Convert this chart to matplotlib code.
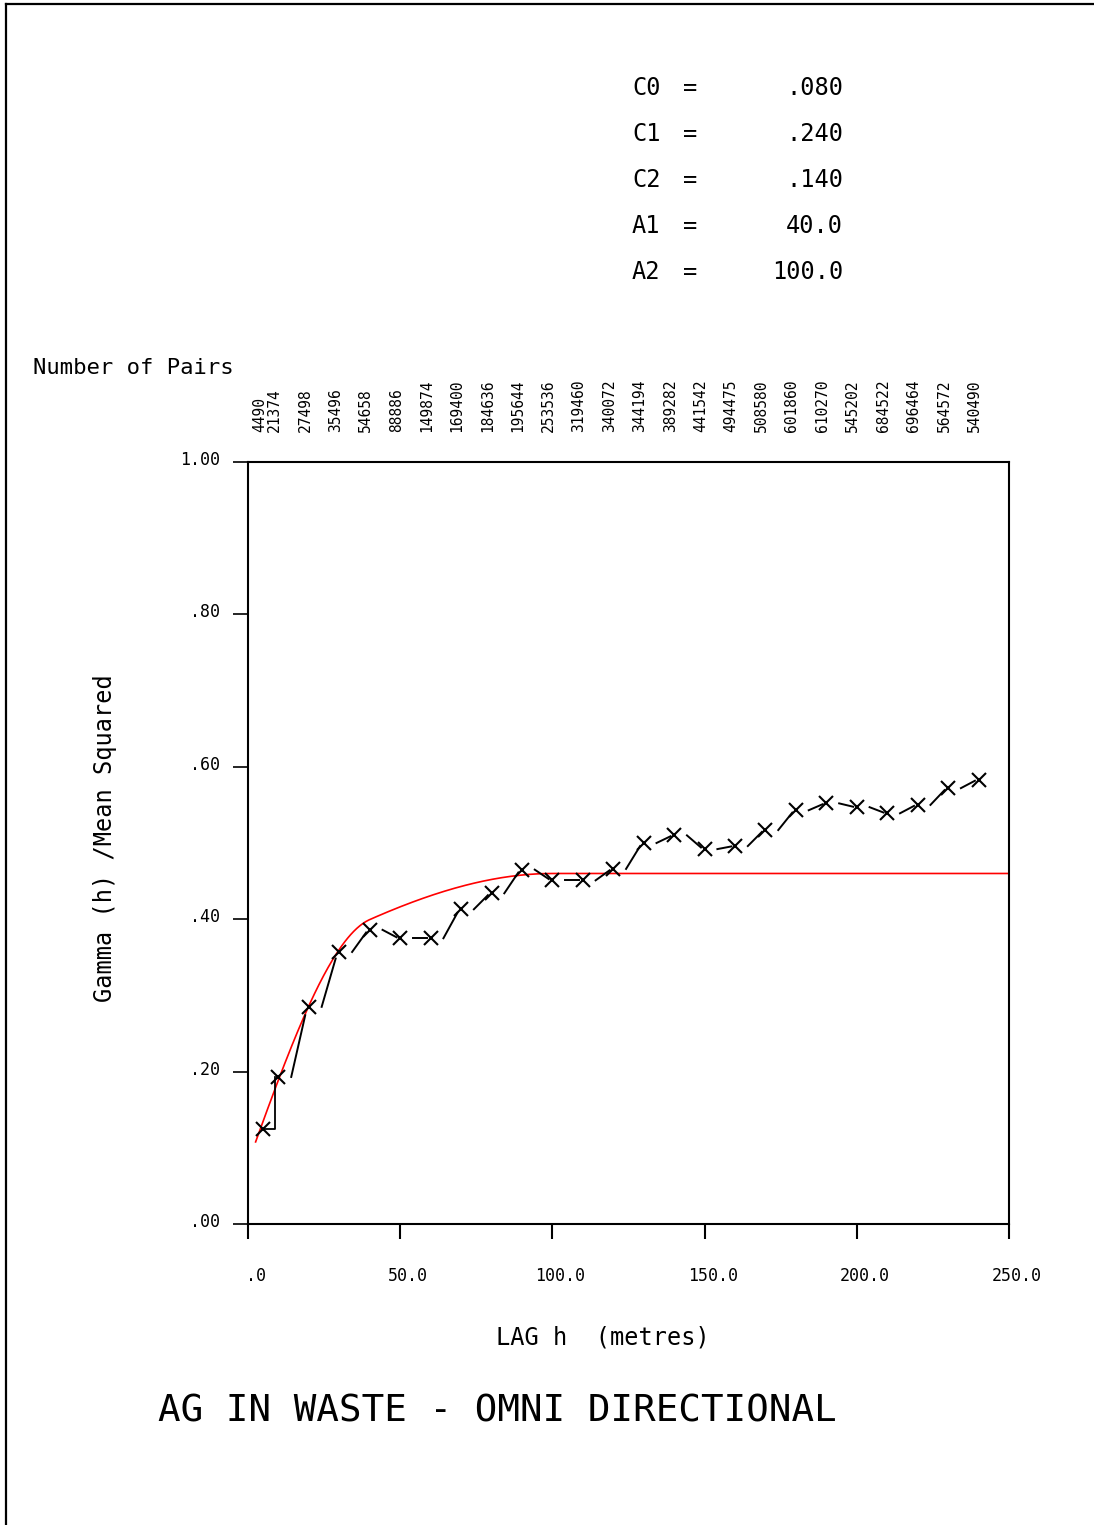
import numpy as np
import matplotlib
matplotlib.use('Agg')
from matplotlib import pyplot as plt
from matplotlib.lines import Line2D
from matplotlib.transforms import ScaledTranslation

plt.rcParams['font.family'] = ['DejaVu Sans Mono', 'DejaVu Sans']

# experimental variogram, omni directional
lags = [5, 10, 20, 30, 40, 50, 60, 70, 80, 90, 100, 110, 120,
        130, 140, 150, 160, 170, 180, 190, 200, 210, 220, 230, 240]
gamma = [0.125, 0.193, 0.285, 0.357, 0.386, 0.375, 0.375, 0.413, 0.434,
         0.465, 0.451, 0.451, 0.466, 0.500, 0.510, 0.492, 0.496, 0.517,
         0.543, 0.552, 0.547, 0.539, 0.550, 0.572, 0.583]
pairs = ['4490', '21374', '27498', '35496', '54658', '88886', '149874',
         '169400', '184636', '195644', '253536', '319460', '340072',
         '344194', '389282', '441542', '494475', '508580', '601860',
         '610270', '545202', '684522', '696464', '564572', '540490']

# nested spherical model
C0 = 0.080
C1 = 0.240
C2 = 0.140
A1 = 40.0
A2 = 100.0
param_names = ['C0', 'C1', 'C2', 'A1', 'A2']
param_text = ['.080', '.240', '.140', '40.0', '100.0']

xticks = [0, 50, 100, 150, 200, 250]
xticklabels = ['.0', '50.0', '100.0', '150.0', '200.0', '250.0']
yticks = [0, 0.2, 0.4, 0.6, 0.8, 1.0]
yticklabels = ['.00', '.20', '.40', '.60', '.80', '1.00']


def spherical(h, c, a):
    r = np.minimum(h / a, 1.0)
    return c * (1.5 * r - 0.5 * r ** 3)


W, H = 1094, 1525
fig = plt.figure(figsize=(W / 100, H / 100), dpi=100)

# page border (left and top edges)
fig.add_artist(Line2D([6 / W, 6 / W], [0, 1 - 4 / H], color='black', lw=1.6,
                      transform=fig.transFigure))
fig.add_artist(Line2D([6 / W, 1], [1 - 4 / H, 1 - 4 / H], color='black', lw=1.6,
                      transform=fig.transFigure))

ax = fig.add_axes([248 / W, 1 - 1224 / H, 761 / W, 762 / H])
ax.set_xlim(0, 250)
ax.set_ylim(0, 1.0)
for s in ax.spines.values():
    s.set_linewidth(1.5)

# model curve
h = np.linspace(2.5, 250, 500)
model = C0 + spherical(h, C1, A1) + spherical(h, C2, A2)
ax.plot(h, model, color='red', lw=1.2, zorder=2)

# experimental points joined by broken pen strokes
lx = np.array(lags, dtype=float)
gy = np.array(gamma)
ax.plot(lx, gy, ls='none', marker='x', ms=10, mew=1.5, color='black', zorder=3)
corner = lx[0] + 0.8 * (lx[1] - lx[0])
ax.plot([lx[0], corner, corner], [gy[0], gy[0], gy[1]], color='black', lw=1.3)
for i in range(1, len(lx) - 1):
    dx = lx[i + 1] - lx[i]
    dy = gy[i + 1] - gy[i]
    ax.plot([lx[i] + 0.42 * dx, lx[i + 1] - 0.12 * dx],
            [gy[i], gy[i + 1] - 0.12 * dy], color='black', lw=1.4, zorder=3)

# ticks
ax.set_xticks(xticks)
ax.set_xticklabels(xticklabels, fontsize=12)
ax.set_yticks(yticks)
ax.set_yticklabels(yticklabels, fontsize=12)
ax.tick_params(axis='x', direction='out', length=11, width=1.5, pad=20)
ax.tick_params(axis='y', direction='out', length=11, width=1.2, pad=9)
for lab in ax.get_xticklabels():
    lab.set_transform(lab.get_transform() + ScaledTranslation(8 / 100, 0, fig.dpi_scale_trans))
for lab in ax.get_yticklabels():
    lab.set_transform(lab.get_transform() + ScaledTranslation(0, 4 / 100, fig.dpi_scale_trans))

# number of pairs above each lag
for x, p in zip(lags, pairs):
    ax.text(x - 1.3, 1.039, p, rotation=90, ha='center', va='bottom',
            fontsize=10.5, transform=ax.get_xaxis_transform())
fig.text(33 / W, 1 - 368 / H, 'Number of Pairs', fontsize=16, ha='left', va='center')

# model parameters
for k, (name, val) in enumerate(zip(param_names, param_text)):
    y = 1 - (88 + 46 * k) / H
    fig.text(632 / W, y, name, fontsize=17, ha='left', va='center')
    fig.text(683 / W, y, '=', fontsize=17, ha='left', va='center')
    fig.text(843 / W, y, val, fontsize=17, ha='right', va='center')

fig.text(603 / W, 1 - 1338 / H, 'LAG h  (metres)', fontsize=17, ha='center', va='center')
fig.text(105 / W, 1 - 838 / H, 'Gamma (h) /Mean Squared', fontsize=17,
         rotation=90, ha='center', va='center')
fig.text(158 / W, 1 - 1412 / H, 'AG IN WASTE - OMNI DIRECTIONAL', fontsize=27,
         ha='left', va='center')

fig.savefig('out.png', dpi=100)
